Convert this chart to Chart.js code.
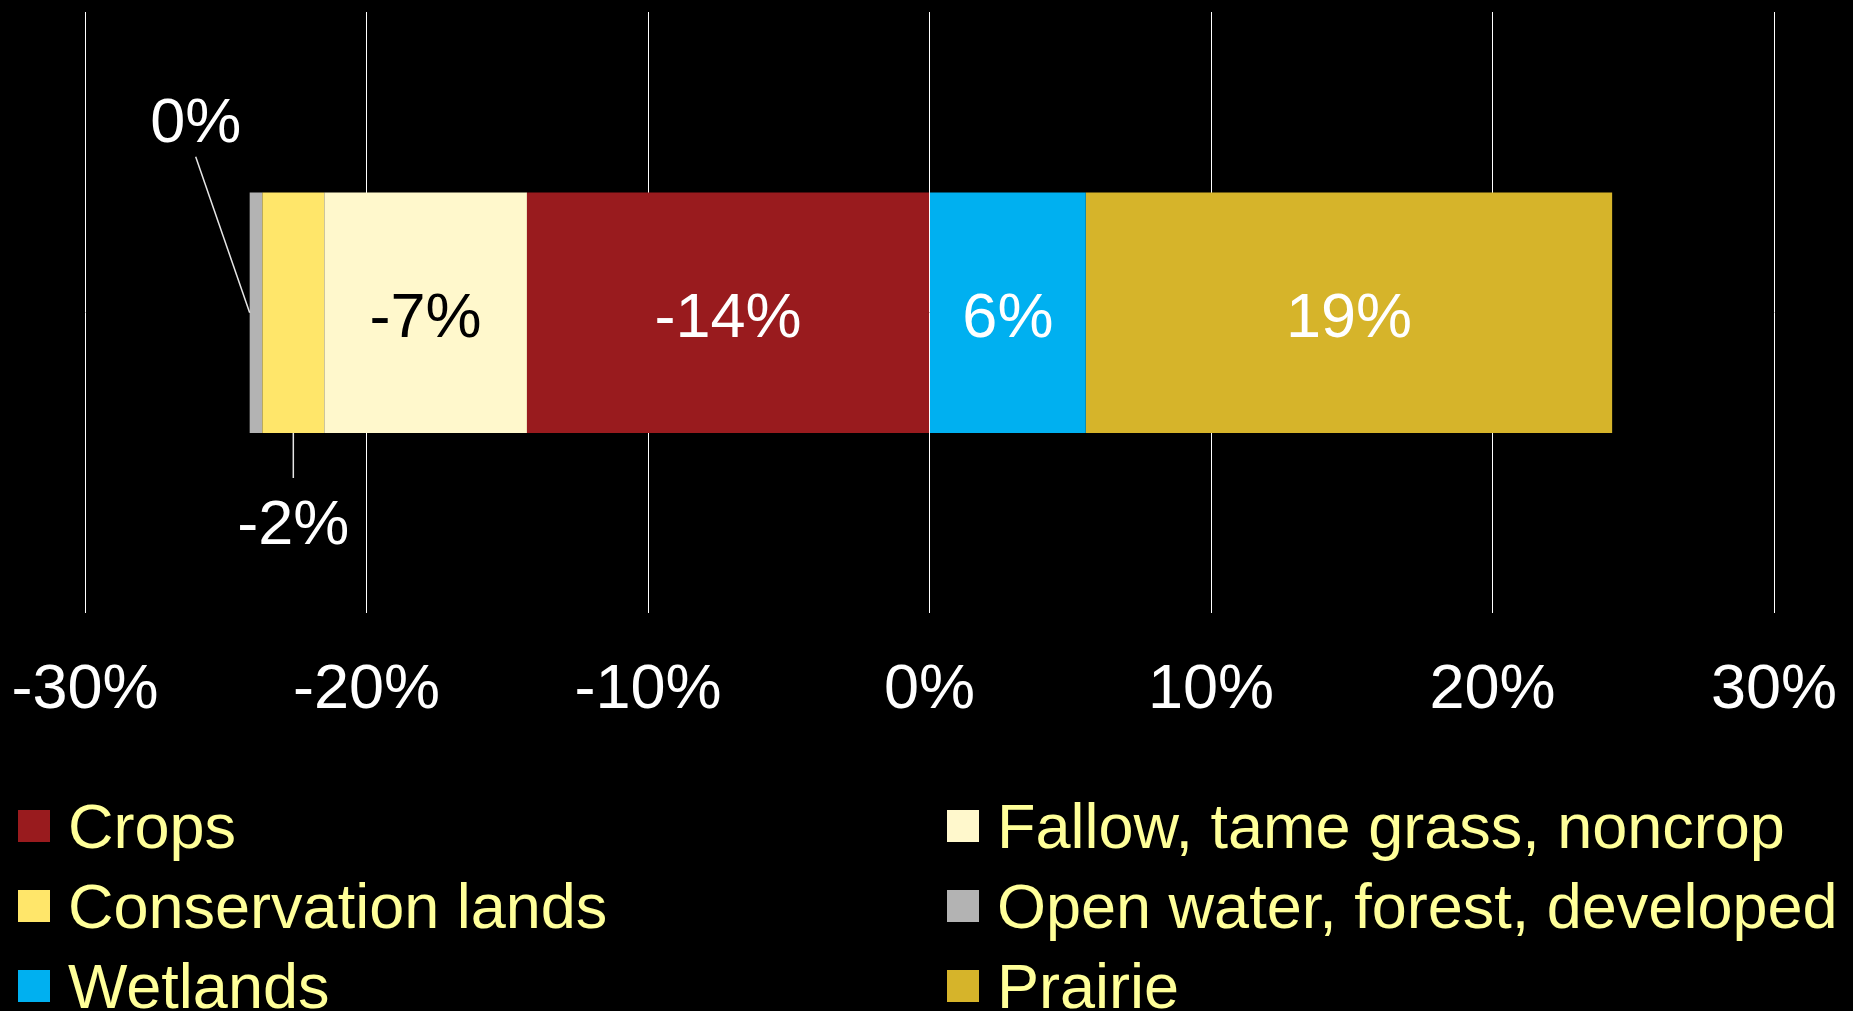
<!DOCTYPE html>
<html>
<head>
<meta charset="utf-8">
<script src="https://cdn.jsdelivr.net/npm/chart.js@4.4.0/dist/chart.umd.min.js"></script>
<style>
  html, body { margin: 0; padding: 0; background: #000; }
  #wrap { position: relative; width: 1853px; height: 1011px; overflow: hidden; }
  #box { position: absolute; left: 0; top: 0; width: 1853px; height: 767px; }
  #legend {
    position: absolute; left: 18px; top: 786px;
    display: grid; grid-template-columns: 929px auto;
    font: 63px "Liberation Sans", Arial, sans-serif; color: #ffff99;
  }
  .item { display: flex; align-items: center; height: 80px; white-space: nowrap; }
  .swatch { width: 32px; height: 32px; margin-right: 18px; flex: none; }
</style>
</head>
<body>
<div id="wrap">
  <div id="box"><canvas id="barChart"></canvas></div>
  <div id="legend"></div>
</div>
<script>
const categories = [""];
const seriesNames = ["Crops", "Fallow, tame grass, noncrop", "Conservation lands",
  "Open water, forest, developed", "Wetlands", "Prairie"];
const crops = [-14.3];
const fallow = [-7.2];
const conservation = [-2.2];
const openWater = [-0.45];
const wetlands = [5.55];
const prairie = [18.7];
const seriesColors = ["#991b1e", "#fff8cc", "#ffe66a", "#b3b3b3", "#00b0f0", "#d6b42a"];
const axisMin = -30, axisMax = 30, axisStep = 10;

const FONT = '"Liberation Sans", Arial, sans-serif';

// value labels drawn on / next to each segment
const valueLabels = {
  id: "valueLabels",
  afterDatasetsDraw(chart) {
    const ctx = chart.ctx;
    const mid = 24; // baseline offset so the digits sit centred on y
    ctx.save();
    ctx.font = "63px " + FONT;
    ctx.textAlign = "center";
    ctx.textBaseline = "alphabetic";
    ctx.strokeStyle = "#e6e6e6";
    ctx.lineWidth = 1.5;
    chart.data.datasets.forEach((ds, i) => {
      const bar = chart.getDatasetMeta(i).data[0];
      const { x, y, base, height } = bar.getProps(["x", "y", "base", "height"], true);
      const text = Math.round(ds.data[0]) + "%";
      const cx = (x + base) / 2;
      ctx.fillStyle = ds.labelColor || "#fff";
      if (ds.labelPlace === "aboveLeft") {
        ctx.beginPath();
        ctx.moveTo(x, y);
        ctx.lineTo(x - 54, y - 156);
        ctx.stroke();
        ctx.fillText(text, x - 54, y - 195 + mid);
      } else if (ds.labelPlace === "below") {
        const bottom = y + height / 2;
        ctx.beginPath();
        ctx.moveTo(cx, bottom);
        ctx.lineTo(cx, bottom + 45);
        ctx.stroke();
        ctx.fillText(text, cx, bottom + 87 + mid);
      } else {
        ctx.fillText(text, cx, y + mid);
      }
    });
    ctx.restore();
  }
};

const seriesData = [crops, fallow, conservation, openWater, wetlands, prairie];

const chart = new Chart(document.querySelector("#barChart"), {
  type: "bar",
  data: {
    labels: categories,
    datasets: seriesData.map((d, i) => ({
      label: seriesNames[i],
      data: d,
      backgroundColor: seriesColors[i],
      borderWidth: 0,
      barPercentage: 0.4,
      categoryPercentage: 1,
      labelColor: i === 1 ? "#000" : "#fff",
      labelPlace: i === 2 ? "below" : (i === 3 ? "aboveLeft" : "inside"),
    })),
  },
  options: {
    indexAxis: "y",
    responsive: true,
    maintainAspectRatio: false,
    animation: false,
    layout: { padding: { top: 12, left: 85, right: 79, bottom: 0 } },
    scales: {
      x: {
        stacked: true,
        min: axisMin,
        max: axisMax,
        grid: { color: "#ffffff", lineWidth: 1, drawTicks: false },
        border: { display: false },
        ticks: {
          stepSize: axisStep,
          padding: 39,
          color: "#ffffff",
          font: { family: FONT, size: 63 },
          callback: (v) => v + "%",
        },
        // let the layout padding alone decide the side margins
        afterFit: (scale) => {
          scale.paddingLeft = 0;
          scale.paddingRight = 0;
        },
      },
      y: { stacked: true, display: false },
    },
    plugins: {
      legend: { display: false },
      tooltip: { enabled: false },
    },
  },
  plugins: [valueLabels],
});

// two-column legend built from the chart's legend items
const legendEl = document.querySelector("#legend");
const items = Chart.defaults.plugins.legend.labels.generateLabels(chart);
items.forEach((it) => {
  const row = document.createElement("div");
  row.className = "item";
  const sw = document.createElement("span");
  sw.className = "swatch";
  sw.style.background = it.fillStyle;
  row.appendChild(sw);
  row.appendChild(document.createTextNode(it.text));
  legendEl.appendChild(row);
});
</script>
</body>
</html>
